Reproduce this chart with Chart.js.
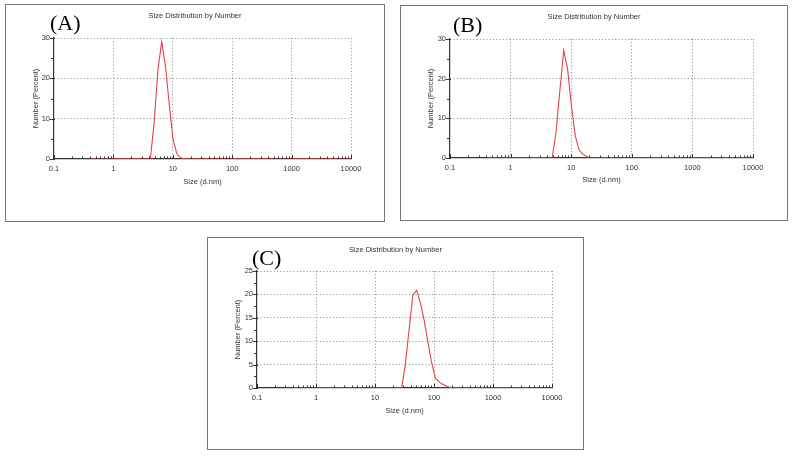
<!DOCTYPE html>
<html>
<head>
<meta charset="UTF-8">
<title>Size Distribution by Number</title>
<script src="https://cdn.jsdelivr.net/npm/chart.js"></script>
<style>
    html, body { margin: 0; padding: 0; background: #fff; }
    body { width: 792px; height: 458px; position: relative; overflow: hidden; }
    .panel { position: absolute; border: 1px solid #777; background: #fff; }
    .panel canvas { display: block; }
</style>
</head>
<body>
<div class="panel" style="left:5px;top:4px;"><canvas id="chartA" width="378" height="216"></canvas></div>
<div class="panel" style="left:400px;top:5px;"><canvas id="chartB" width="386" height="214"></canvas></div>
<div class="panel" style="left:207px;top:237px;"><canvas id="chartC" width="375" height="211"></canvas></div>

<script>
// size classes (d.nm) shared by the three samples
var sizeClasses = [
    0.4, 0.4632, 0.5365, 0.6213, 0.7195, 0.8332, 0.9649, 1.117, 1.294, 1.499,
    1.736, 2.010, 2.328, 2.696, 3.122, 3.615, 4.187, 4.849, 5.615, 6.503,
    7.531, 8.721, 10.10, 11.70, 13.54, 15.69, 18.17, 21.04, 24.36, 28.21,
    32.67, 37.84, 43.82, 50.75, 58.77, 68.06, 78.82, 91.28, 105.7, 122.4,
    141.8, 164.2, 190.1, 220.2, 255.0, 295.3, 342.0, 396.1, 458.7, 531.2,
    615.1, 712.4, 825.0, 955.4, 1106, 1281, 1484, 1718, 1990, 2305,
    2669, 3091, 3580, 4145, 4801, 5560, 6439, 7456, 8635, 10000
];

// Number (%) per size class
var numberA = [
    0, 0, 0, 0, 0, 0, 0, 0, 0, 0,
    0, 0, 0, 0, 0, 0, 0, 9, 22, 29.1,
    23, 13.5, 4.8, 1.3, 0.3, 0.05, 0, 0, 0, 0,
    0, 0, 0, 0, 0, 0, 0, 0, 0, 0,
    0, 0, 0, 0, 0, 0, 0, 0, 0, 0,
    0, 0, 0, 0, 0, 0, 0, 0, 0, 0,
    0, 0, 0, 0, 0, 0, 0, 0, 0, 0
];
var numberB = [
    0, 0, 0, 0, 0, 0, 0, 0, 0, 0,
    0, 0, 0, 0, 0, 0, 0, 0, 6.5, 17,
    27.1, 22.4, 13, 5.5, 2, 0.9, 0.3, 0, 0, 0,
    0, 0, 0, 0, 0, 0, 0, 0, 0, 0,
    0, 0, 0, 0, 0, 0, 0, 0, 0, 0,
    0, 0, 0, 0, 0, 0, 0, 0, 0, 0,
    0, 0, 0, 0, 0, 0, 0, 0, 0, 0
];
var numberC = [
    0, 0, 0, 0, 0, 0, 0, 0, 0, 0,
    0, 0, 0, 0, 0, 0, 0, 0, 0, 0,
    0, 0, 0, 0, 0, 0, 0, 0, 0, 0,
    5, 12.5, 19.8, 20.9, 18.2, 14.5, 9.8, 5.4, 2.1, 1.3,
    0.75, 0.37, 0.1, 0, 0, 0, 0, 0, 0, 0,
    0, 0, 0, 0, 0, 0, 0, 0, 0, 0,
    0, 0, 0, 0, 0, 0, 0, 0, 0, 0
];

var xMajorTicks = [0.1, 1, 10, 100, 1000, 10000];
var yTicksAB = [0, 10, 20, 30];
var yMinorAB = [5, 15, 25];
var yTicksC = [0, 5, 10, 15, 20, 25];
var yMinorC = [2.5, 7.5, 12.5, 17.5, 22.5];

var chartTitle = 'Size Distribution by Number';
var xTitle = 'Size (d.nm)';
var yTitle = 'Number (Percent)';

// minor log ticks 2..9 in every decade
var xMinorTicks = [];
for (var d = 0; d < xMajorTicks.length - 1; d++) {
    for (var m = 2; m <= 9; m++) xMinorTicks.push(xMajorTicks[d] * m);
}

Chart.defaults.font.family = '"Liberation Sans", Arial, sans-serif';
Chart.defaults.font.size = 7.5;
Chart.defaults.color = '#333';

// tick marks, chart title and panel letter
var panelDecor = {
    id: 'panelDecor',
    afterDraw: function(chart, args, opts) {
        var ctx = chart.ctx, area = chart.chartArea;
        var xs = chart.scales.x, ys = chart.scales.y;
        ctx.save();
        ctx.strokeStyle = '#333';
        ctx.lineWidth = 1;
        ctx.beginPath();
        xs.ticks.forEach(function(t) {
            var px = Math.round(xs.getPixelForValue(t.value)) + 0.5;
            var len = xMajorTicks.indexOf(t.value) >= 0 ? 4 : 2.5;
            ctx.moveTo(px, area.bottom);
            ctx.lineTo(px, area.bottom - len);
        });
        ys.ticks.forEach(function(t) {
            var py = Math.round(ys.getPixelForValue(t.value)) + 0.5;
            var major = opts.yMajor.indexOf(t.value) >= 0;
            ctx.moveTo(area.left - (major ? 4 : 3), py);
            ctx.lineTo(area.left + (major ? 1 : 0), py);
        });
        ctx.stroke();

        ctx.fillStyle = '#333';
        ctx.font = '7.5px "Liberation Sans", Arial, sans-serif';
        ctx.textAlign = 'center';
        ctx.textBaseline = 'middle';
        ctx.fillText(chartTitle, chart.width / 2, opts.titleY);

        ctx.fillStyle = '#000';
        ctx.font = '22px "Liberation Serif", "Times New Roman", serif';
        ctx.textAlign = 'left';
        ctx.textBaseline = 'alphabetic';
        ctx.fillText(opts.letter, opts.letterX, opts.letterY);
        ctx.restore();
    }
};

function makeChart(id, numbers, yMajor, yMinor, yMax, lay) {
    var points = sizeClasses.map(function(s, i) { return { x: s, y: numbers[i] }; });
    return new Chart(document.getElementById(id), {
        type: 'line',
        data: {
            datasets: [{
                data: points,
                borderColor: '#e3434a',
                borderWidth: 1.1,
                pointRadius: 0,
                tension: 0,
                fill: false
            }]
        },
        options: {
            responsive: false,
            animation: false,
            layout: { padding: { left: 0, right: lay.right, top: lay.top, bottom: 0 } },
            plugins: {
                legend: { display: false },
                title: { display: false },
                tooltip: { enabled: false },
                panelDecor: { letter: lay.letter, letterX: lay.letterX, letterY: lay.letterY, titleY: lay.titleY, yMajor: yMajor }
            },
            scales: {
                x: {
                    type: 'logarithmic',
                    min: 0.1,
                    max: 10000,
                    afterBuildTicks: function(scale) {
                        scale.ticks = xMajorTicks.concat(xMinorTicks).sort(function(a, b) { return a - b; })
                            .map(function(v) { return { value: v }; });
                    },
                    afterFit: function(scale) { scale.height = lay.bottomSpace; },
                    ticks: {
                        autoSkip: false,
                        maxRotation: 0,
                        padding: 5,
                        callback: function(v) { return xMajorTicks.indexOf(v) >= 0 ? String(v) : ''; }
                    },
                    grid: {
                        drawTicks: false,
                        lineWidth: 1,
                        color: function(c) {
                            return c.tick && xMajorTicks.indexOf(c.tick.value) > 0 ? '#8a8a8a' : 'rgba(0,0,0,0)';
                        }
                    },
                    border: { display: true, color: '#333', width: 1.2, dash: [1, 2.3] },
                    title: { display: true, text: xTitle, padding: { top: 0, bottom: lay.xTitlePad } }
                },
                y: {
                    min: 0,
                    max: yMax,
                    afterBuildTicks: function(scale) {
                        scale.ticks = yMajor.concat(yMinor).sort(function(a, b) { return a - b; })
                            .map(function(v) { return { value: v }; });
                    },
                    afterFit: function(scale) { scale.width = lay.left; },
                    ticks: {
                        autoSkip: false,
                        padding: 4,
                        callback: function(v) { return yMajor.indexOf(v) >= 0 ? String(v) : ''; }
                    },
                    grid: {
                        drawTicks: false,
                        lineWidth: 1,
                        color: function(c) {
                            return c.tick && yMajor.indexOf(c.tick.value) > 0 ? '#8a8a8a' : 'rgba(0,0,0,0)';
                        }
                    },
                    border: { display: true, color: '#333', width: 1.2, dash: [1, 2.3] },
                    title: { display: true, text: yTitle, padding: { top: 25, bottom: 0 } }
                }
            }
        },
        plugins: [panelDecor]
    });
}

makeChart('chartA', numberA, yTicksAB, yMinorAB, 30,
    { left: 48, right: 33, top: 33, bottomSpace: 62, xTitlePad: 35, titleY: 11, letter: '(A)', letterX: 44, letterY: 25 });
makeChart('chartB', numberB, yTicksAB, yMinorAB, 30,
    { left: 49, right: 34, top: 33, bottomSpace: 62, xTitlePad: 35.5, titleY: 11, letter: '(B)', letterX: 52, letterY: 26 });
makeChart('chartC', numberC, yTicksC, yMinorC, 25,
    { left: 49, right: 31, top: 33, bottomSpace: 61, xTitlePad: 34, titleY: 11.5, letter: '(C)', letterX: 44, letterY: 27 });
</script>
</body>
</html>
